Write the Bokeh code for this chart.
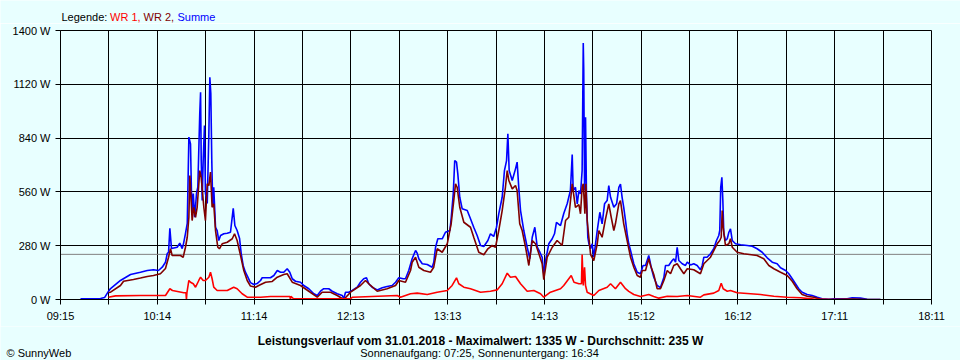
from bokeh.plotting import figure
from bokeh.layouts import column, row
from bokeh.models import (Range1d, FixedTicker, CustomJSTickFormatter,
                          PrintfTickFormatter, Label, Span)
from bokeh.embed import file_html
from bokeh.resources import INLINE

# ---------------- data ----------------
span_minutes = 536          # 09:15 .. 18:11
tick_labels = ["09:15", "10:14", "11:14", "12:13", "13:13",
               "14:13", "15:12", "16:12", "17:11", "18:11"]
y_ticks = [0, 280, 560, 840, 1120, 1400]
average_w = 235
title_text = "Leistungsverlauf vom 31.01.2018 - Maximalwert: 1335 W - Durchschnitt: 235 W"
sun_text = "Sonnenaufgang: 07:25, Sonnenuntergang: 16:34"
copyright_text = "\u00a9 SunnyWeb"
legend_parts = ["Legende: ", "WR 1,", "WR 2,", "Summe"]

# minutes after 09:15
summe_t = [12.3, 24.6, 27.1, 29.5, 30.8, 36.9, 43.1, 49.2, 53.4, 57.2,
           60.3, 62.6, 64.6, 65.7, 66.5, 67.3, 68.3, 71.8, 73.4, 74.9,
           75.7, 76.9, 78.0, 79.0, 80.0, 80.6, 81.0, 81.7, 82.6, 83.7,
           84.5, 85.7, 86.2, 86.6, 87.2, 87.8, 88.6, 89.2, 90.3, 91.3,
           91.9, 92.5, 93.1, 93.7, 94.3, 95.4, 96.4, 97.4, 98.5, 100.5,
           102.6, 104.6, 106.3, 107.3, 108.7, 110.2, 111.2, 112.4, 113.8, 115.3,
           116.9, 119.0, 121.0, 123.1, 124.1, 129.2, 131.3, 133.4, 135.4, 137.4,
           139.5, 141.1, 142.6, 144.6, 147.7, 149.7, 152.8, 155.9, 158.0, 160.0,
           162.0, 165.1, 167.2, 170.3, 173.4, 174.3, 175.4, 177.4, 179.5, 182.6,
           184.6, 186.6, 188.3, 189.7, 191.8, 194.9, 198.0, 201.0, 204.1, 206.2,
           208.2, 210.9, 212.3, 214.3, 216.4, 218.5, 219.5, 220.5, 222.6, 225.7,
           228.7, 229.7, 230.8, 232.2, 234.9, 236.9, 239.6, 240.4, 241.7, 242.6,
           243.7, 244.5, 245.7, 247.2, 250.3, 252.3, 254.3, 256.4, 258.5, 260.5,
           263.0, 264.6, 266.6, 268.3, 269.7, 271.8, 273.2, 274.5, 275.3, 276.1,
           278.0, 280.0, 281.0, 282.0, 283.1, 285.1, 287.2, 288.8, 290.3, 291.9,
           293.4, 295.0, 296.4, 297.4, 298.5, 300.5, 302.6, 304.0, 305.2, 307.7,
           309.7, 311.8, 313.8, 314.9, 315.5, 316.9, 318.0, 319.0, 320.0, 321.0,
           321.7, 322.0, 322.5, 323.1, 323.7, 324.5, 325.2, 326.2, 327.2, 328.2,
           330.3, 331.9, 333.3, 334.8, 336.4, 337.4, 338.5, 340.5, 342.2, 343.6,
           344.6, 345.6, 346.6, 347.7, 348.7, 349.7, 350.8, 351.8, 352.8, 354.9,
           356.9, 358.5, 360.0, 362.0, 363.5, 365.1, 367.2, 369.2, 371.3, 372.3,
           374.3, 376.4, 377.4, 378.5, 379.5, 380.5, 382.6, 384.6, 385.7, 387.7,
           389.7, 391.8, 393.8, 394.9, 395.9, 397.9, 400.0, 402.0, 403.7, 405.1,
           405.7, 406.3, 407.0, 407.6, 408.2, 409.2, 410.3, 411.3, 412.3, 413.4,
           415.4, 418.5, 422.6, 425.7, 428.7, 431.8, 434.9, 438.0, 441.0, 443.1,
           446.2, 448.2, 450.3, 452.3, 454.3, 456.4, 459.5, 462.6, 465.7, 468.7,
           472.8, 475.9, 484.1, 487.2, 492.3, 496.4, 504.6]
summe_w = [3, 5, 10, 42, 57, 99, 130, 142, 151, 155,
           151, 168, 194, 239, 246, 370, 265, 272, 293, 265,
           291, 343, 396, 845, 810, 552, 448, 552, 428, 552,
           584, 968, 1079, 723, 515, 723, 906, 552, 500, 864,
           1157, 1072, 723, 480, 584, 376, 359, 307, 333, 342,
           345, 350, 474, 385, 359, 317, 239, 177, 142, 116,
           88, 78, 83, 99, 113, 113, 125, 151, 142, 142,
           160, 142, 108, 95, 90, 73, 56, 30, 21, 43,
           56, 56, 43, 30, 21, 4, 38, 38, 47, 64,
           90, 108, 113, 82, 64, 50, 61, 68, 73, 90,
           113, 108, 108, 151, 212, 255, 241, 212, 186, 182,
           168, 194, 272, 316, 316, 350, 359, 420, 550, 723,
           715, 654, 532, 472, 463, 420, 376, 333, 281, 276,
           307, 342, 328, 376, 446, 532, 671, 723, 862, 671,
           619, 680, 715, 584, 463, 359, 272, 212, 324, 376,
           272, 246, 220, 134, 203, 290, 316, 342, 402, 385,
           448, 498, 567, 755, 567, 584, 498, 567, 550, 671,
           1335, 1192, 567, 949, 532, 324, 290, 264, 290, 220,
           359, 454, 394, 498, 515, 593, 532, 480, 498, 584,
           601, 532, 480, 411, 342, 290, 255, 220, 186, 142,
           134, 177, 177, 229, 168, 116, 73, 62, 114, 177,
           177, 203, 212, 194, 272, 203, 186, 177, 194, 180,
           186, 177, 155, 177, 220, 220, 238, 264, 307, 333,
           359, 584, 636, 515, 342, 307, 316, 350, 368, 307,
           290, 285, 281, 277, 264, 246, 217, 194, 186, 165,
           151, 134, 108, 82, 56, 38, 26, 21, 12, 4,
           1, 4, 4, 9, 7, 1, 0]

wr2_t = [29.5, 30.8, 36.9, 38.8, 44.9, 49.2, 53.4, 57.2, 61.5, 64.6,
         66.5, 67.7, 68.7, 73.8, 75.5, 76.9, 78.0, 79.0, 79.6, 80.4,
         81.0, 82.0, 83.1, 84.1, 85.7, 86.6, 87.2, 88.2, 89.2, 90.3,
         91.3, 92.3, 93.3, 94.3, 95.4, 96.8, 97.8, 99.5, 102.6, 105.7,
         107.1, 108.7, 110.8, 112.8, 114.9, 116.9, 120.0, 122.6, 126.2, 130.3,
         133.4, 137.4, 139.5, 142.6, 147.7, 152.8, 158.0, 161.0, 166.2, 170.3,
         174.3, 178.5, 184.6, 187.7, 190.8, 194.9, 201.0, 206.2, 208.2, 212.3,
         215.4, 216.4, 218.5, 220.5, 223.6, 227.7, 229.7, 231.8, 234.9, 238.0,
         240.4, 242.0, 243.1, 244.1, 245.7, 248.2, 252.3, 254.3, 257.4, 260.5,
         263.0, 265.6, 267.7, 269.7, 271.8, 273.8, 274.9, 275.9, 278.0, 280.0,
         281.0, 282.6, 284.1, 286.2, 288.2, 290.3, 292.3, 294.4, 296.4, 297.4,
         299.5, 302.6, 305.6, 307.7, 308.7, 310.8, 312.8, 314.9, 316.9, 319.0,
         320.0, 321.0, 321.7, 322.7, 323.3, 324.1, 326.2, 328.2, 330.3, 331.3,
         333.3, 335.4, 337.4, 338.9, 340.5, 341.5, 343.6, 344.6, 346.6, 348.7,
         350.8, 352.8, 354.9, 356.9, 358.0, 360.0, 362.0, 363.1, 365.1, 367.2,
         369.2, 371.3, 373.4, 375.4, 377.4, 379.5, 381.5, 383.6, 385.7, 389.7,
         393.8, 395.9, 400.0, 404.1, 405.7, 406.6, 407.2, 407.8, 409.2, 411.3,
         412.3, 413.4, 416.4, 420.5, 428.7, 432.8, 435.9, 439.0, 443.1, 447.2,
         450.3, 453.3, 456.4, 459.5, 463.6, 467.7, 475.9, 488.2, 496.4, 504.6]
wr2_w = [36, 38, 73, 95, 104, 112, 120, 125, 134, 161,
         220, 265, 229, 229, 220, 272, 324, 428, 645, 515,
         411, 480, 428, 480, 671, 636, 576, 480, 411, 602,
         593, 663, 480, 498, 359, 272, 264, 290, 298, 316,
         342, 307, 229, 151, 99, 70, 64, 75, 90, 94,
         116, 130, 134, 90, 73, 43, 12, 38, 38, 21,
         0, 38, 73, 99, 73, 43, 56, 73, 99, 90,
         151, 194, 220, 168, 151, 142, 168, 264, 246, 290,
         394, 515, 602, 584, 480, 402, 376, 324, 246, 233,
         264, 281, 272, 359, 463, 584, 671, 619, 576, 593,
         567, 394, 359, 272, 177, 307, 290, 238, 186, 103,
         220, 272, 307, 290, 281, 411, 428, 602, 480, 494,
         446, 584, 602, 446, 602, 411, 234, 203, 290, 359,
         324, 420, 498, 428, 359, 394, 498, 515, 394, 307,
         220, 168, 125, 116, 151, 151, 212, 177, 130, 56,
         56, 99, 151, 134, 177, 186, 160, 134, 160, 155,
         134, 186, 220, 290, 307, 324, 463, 376, 281, 290,
         316, 272, 246, 238, 229, 212, 177, 160, 142, 125,
         95, 56, 26, 17, 12, 1, 0, 2, 0, 0]

wr1_t = [29.5, 33.8, 49.2, 64.6, 67.3, 68.9, 75.9, 77.2, 77.5, 77.8,
         79.0, 80.0, 81.7, 83.1, 85.1, 86.2, 87.8, 89.2, 91.3, 92.3,
         93.3, 94.3, 96.4, 102.6, 106.6, 108.7, 111.8, 114.9, 123.1, 129.2,
         141.2, 141.5, 141.8, 143.4, 178.5, 179.7, 207.2, 209.2, 215.4, 219.5,
         225.7, 231.8, 238.0, 241.0, 243.7, 245.1, 248.2, 252.3, 258.5, 264.6,
         268.7, 271.8, 274.9, 276.9, 280.0, 283.1, 287.2, 291.3, 295.4, 297.4,
         301.5, 307.7, 309.7, 314.3, 316.0, 319.0, 320.6, 321.0, 321.7, 322.5,
         323.1, 324.1, 328.2, 331.3, 336.4, 338.5, 341.5, 344.6, 347.7, 349.7,
         352.8, 356.9, 362.0, 365.1, 368.2, 373.4, 379.5, 385.7, 393.8, 395.9,
         402.0, 405.1, 406.6, 407.8, 410.3, 412.3, 416.4, 430.8, 439.0, 447.2,
         455.4, 463.6, 473.8, 486.2]
wr1_w = [12, 19, 21, 21, 56, 47, 35, 35, 0, 36,
         99, 90, 82, 64, 99, 116, 99, 99, 116, 142,
         108, 64, 47, 47, 64, 56, 30, 12, 12, 16,
         16, 0, 16, 4, 4, 12, 21, 12, 30, 33,
         26, 38, 47, 73, 113, 82, 64, 56, 38, 43,
         50, 82, 137, 116, 120, 82, 43, 47, 30, 12,
         38, 56, 73, 125, 90, 82, 82, 234, 73, 168,
         73, 38, 21, 47, 64, 82, 56, 90, 56, 42,
         26, 16, 26, 16, 7, 17, 16, 21, 12, 24,
         33, 47, 85, 56, 43, 47, 35, 26, 17, 12,
         9, 2, 0, 0]

# ---------------- style / layout ----------------
BG = "#E8FFFF"
FONT = "Liberation Sans"
W = 960
HDR_H = 23
FTR_H = 34
MAIN_H = 360 - HDR_H - FTR_H
L, R, T = 60, 29, 7
FW = W - L - R          # 871
FH = 269
B = MAIN_H - T - FH
Y_MAX = y_ticks[-1]


def text_panel(height, top):
    """A bare figure whose data units are page pixels (y grows downward)."""
    f = figure(width=W, height=height, output_backend="svg", toolbar_location=None,
               x_range=Range1d(0, W), y_range=Range1d(top + height, top),
               x_axis_location=None, y_axis_location=None,
               min_border=0, min_border_left=0, min_border_right=0,
               min_border_top=0, min_border_bottom=0,
               background_fill_color=BG, border_fill_color=BG,
               outline_line_color=None)
    f.grid.visible = False
    return f


def add_text(f, x, y, txt, color="black", align="left", style="normal", size="11px"):
    f.add_layout(Label(x=x, y=y, text=txt, text_color=color, text_font=FONT,
                       text_font_size=size, text_font_style=style,
                       text_baseline="alphabetic", text_align=align))


# header with the coloured legend
hdr = text_panel(HDR_H, 0)
legend_colors = ["black", "#FF0000", "#800000", "#0000FF"]
legend_x = [61, 109.5, 143.0, 177.0]
for txt, col, xx in zip(legend_parts, legend_colors, legend_x):
    add_text(hdr, xx, 16.5, txt, col)

# main chart
p = figure(width=W, height=MAIN_H, output_backend="svg", toolbar_location=None,
           x_range=Range1d(0, span_minutes), y_range=Range1d(0, Y_MAX),
           min_border_left=L, min_border_right=R, min_border_top=T,
           min_border_bottom=B, background_fill_color=BG, border_fill_color=BG,
           outline_line_color="black")

n = len(tick_labels) - 1
step = span_minutes / n
major = [i * step for i in range(n + 1)]
minor = [(i + 0.5) * step for i in range(n)]
p.xaxis.ticker = FixedTicker(ticks=major, minor_ticks=minor)
p.xaxis.formatter = CustomJSTickFormatter(
    args=dict(labels=tick_labels, step=step),
    code="return labels[Math.round(tick / step)];")
p.yaxis.ticker = FixedTicker(ticks=y_ticks)
p.yaxis.formatter = PrintfTickFormatter(format="%d W")

for ax in (p.xaxis[0], p.yaxis[0]):
    ax.axis_line_color = "black"
    ax.major_tick_line_color = "black"
    ax.major_tick_in = 0
    ax.major_tick_out = 5
    ax.minor_tick_in = 0
    ax.major_label_text_font = FONT
    ax.major_label_text_font_size = "11px"
    ax.major_label_text_color = "black"
p.xaxis.minor_tick_out = 5
p.xaxis.minor_tick_line_color = "black"
p.yaxis.minor_tick_line_color = None
p.xaxis.major_label_standoff = 5
p.yaxis.major_label_standoff = 5

p.xgrid.grid_line_color = "black"
p.xgrid.minor_grid_line_color = "black"
p.ygrid.grid_line_color = "black"

p.add_layout(Span(location=average_w, dimension="width", line_color="#808080",
                  line_width=1, level="underlay"))

p.line(summe_t, summe_w, line_color="#0000FF", line_width=1.6)
p.line(wr2_t, wr2_w, line_color="#800000", line_width=1.6)
p.line(wr1_t, wr1_w, line_color="#FF0000", line_width=1.6)

# footer with title lines
ftr_top = HDR_H + MAIN_H
ftr = text_panel(FTR_H, ftr_top)
add_text(ftr, 480, 340.5, title_text, align="center", style="bold", size="12px")
add_text(ftr, 479, 352.5, sun_text, align="center")
add_text(ftr, 6, 352.5, copyright_text)

layout = column(row(hdr), p, row(ftr), spacing=0)
open("out.html", "w").write(file_html(layout, INLINE))
